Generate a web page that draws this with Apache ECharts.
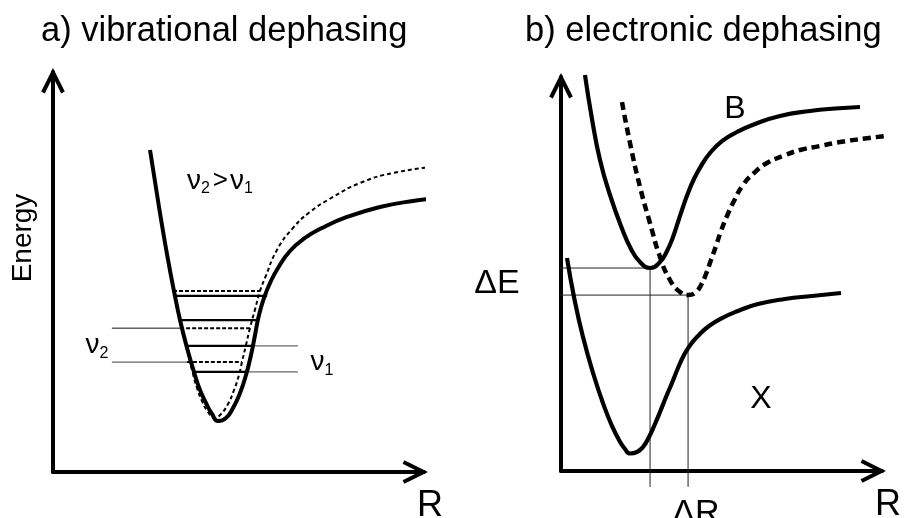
<!DOCTYPE html>
<html><head><meta charset="utf-8">
<script src="https://cdn.jsdelivr.net/npm/echarts@6/dist/echarts.min.js"></script>
<style>html,body{margin:0;padding:0;background:#fff}#c{width:918px;height:518px}</style>
</head><body><div id="c"></div>
<script>
// ---------- Panel a) vibrational dephasing (R, Energy in arbitrary units) ----------
const potA_R  = [25.87,28.27,30.53,32.53,33.87,35.60,37.60,39.20,40.80,42.40,44.00,46.13,48.00,49.87,51.47,52.80,53.87,54.93,56.27,57.87,60.00,63.20,67.20,71.73,78.40,87.20,96.00,105.33];
const potA_E  = [79.70,65.59,53.22,43.56,37.62,31.19,24.75,20.30,17.08,14.36,12.62,13.37,15.84,19.55,24.01,28.96,33.91,38.86,43.07,46.78,50.50,54.70,57.92,60.40,63.12,65.59,67.08,68.07];
const potA2_R = [32.27,33.73,35.47,37.20,38.40,39.73,41.33,43.20,44.80,46.67,48.27,49.60,50.40,51.47,52.53,53.87,55.20,56.53,59.73,64.00,68.53,74.67,81.87,90.67,103.20];
const potA2_E = [44.80,37.62,31.19,24.75,20.79,17.57,14.85,13.37,14.36,16.83,20.30,24.01,27.23,31.44,35.64,40.22,44.80,48.02,54.95,60.40,64.36,68.07,71.53,74.01,75.74];
// vibrational levels of the solid potential (nu1)
const levA_E    = [43.6,37.6,31.2,24.8];
const levA_Rmin = [32.3,33.6,35.2,37.1];
const levA_Rmax = [57.1,54.7,53.3,51.5];
// vibrational levels of the dashed potential (nu2)
const levA2_E    = [44.8,35.6,27.2];
const levA2_Rmin = [32.0,33.9,35.7];
const levA2_Rmax = [55.2,52.5,50.4];
// spacing markers
const nu2Mark_E = [35.6,27.2];
const nu2Mark_Rstart = 15.7;
const nu1Mark_E = [31.2,24.8];
const nu1Mark_Rend = 65.3;

// ---------- Panel b) electronic dephasing ----------
const potB_R  = [7.38,9.54,12.00,15.08,18.46,21.54,24.31,27.38,30.46,32.62,34.46,36.00,37.54,39.08,40.92,43.08,45.85,49.54,54.15,59.69,67.38,76.62,84.31,92.00];
const potB_E  = [99.50,88.44,78.14,69.35,61.56,55.78,52.51,51.01,52.51,55.28,58.79,62.56,66.33,69.85,73.37,76.63,79.90,82.91,85.18,87.19,89.20,90.45,91.08,91.46];
const potB2_R = [18.77,21.23,24.31,27.38,30.46,33.54,36.62,39.08,41.23,43.08,44.62,46.15,47.69,49.23,51.08,53.23,56.00,59.38,63.38,68.31,73.54,79.69,85.85,93.54,102.15];
const potB2_E = [92.71,82.41,71.36,62.31,53.77,47.99,44.97,44.22,44.72,46.73,49.50,53.02,56.53,60.30,64.07,67.84,71.86,74.87,77.39,79.15,80.65,81.66,82.66,83.54,84.42];
const potX_R  = [1.85,4.00,6.77,10.15,13.23,15.69,17.85,19.69,21.23,23.38,25.23,27.08,28.92,30.46,32.31,34.15,36.00,37.85,40.00,42.46,45.54,49.54,54.46,60.62,68.92,77.23,86.15];
const potX_E  = [53.52,43.72,33.67,23.87,16.33,11.31,7.79,5.53,4.40,4.77,6.03,8.54,11.81,14.82,18.59,22.11,25.88,29.15,31.91,34.17,36.43,38.44,40.20,41.96,43.22,43.97,44.72];
// minima marks (Delta E, Delta R)
const minB_R = [27.4,39.1];
const minB_E = [51.0,44.2];
const dE_Rstart = [-6.2,-7.1];
const dR_Ebottom = -4.0;

// annotations (text, R, E)
const textA = ['{n|ν}{s|2}{g|>}{n|ν}{s|1}', '{n|ν}{s|2}', '{n|ν}{s|1}'];
const textA_R = [44.5, 11.7, 71.7];
const textA_E = [72.0, 31.4, 27.2];
const textB = ['B', 'X', 'ΔE', 'ΔR'];
const textB_R = [53.5, 61.5, -19.7, 41.5];
const textB_E = [91.0, 18.1, 47.0, -10.8];
const textB_size = [32, 32, 34, 34];

const FONT = "'Liberation Sans', Arial, Helvetica, sans-serif";
const ARROW = 'path://M0.21 21.11L12 -2.47L23.79 21.11L20.21 22.89L12 6.47L3.79 22.89Z';
const ARROW_SIZE = [23.58, 25.36];

function zip(R, E) { return R.map((r, i) => [r, E[i]]); }
function curve(gi, R, E, style, z) {
  return {type:'line', xAxisIndex:gi, yAxisIndex:gi, data:zip(R,E), smooth:0.5,
    showSymbol:false, symbol:'none', clip:false, silent:true, z:z||3, lineStyle:style};
}
function seg(gi, p1, p2, style, z) {
  return {type:'line', xAxisIndex:gi, yAxisIndex:gi, data:[p1,p2], smooth:false,
    showSymbol:false, symbol:'none', clip:false, silent:true, z:z||2, lineStyle:style};
}
function axisX(gi, max) {
  return {gridIndex:gi, type:'value', min:0, max:max,
    axisLine:{show:true, onZero:false, symbol:['none', ARROW], symbolSize:ARROW_SIZE, symbolOffset:[0,-8.7],
      lineStyle:{color:'#000', width:4}},
    axisTick:{show:false}, axisLabel:{show:false}, splitLine:{show:false},
    name:'R', nameLocation:'end', nameGap:6,
    nameTextStyle:{fontSize:36, fontFamily:FONT, color:'#000', align:'center', verticalAlign:'top', padding:[16,0,0,0]}};
}
function axisY(gi, max, name) {
  const a = {gridIndex:gi, type:'value', min:0, max:max,
    axisLine:{show:true, onZero:false, symbol:['none', ARROW], symbolSize:ARROW_SIZE, symbolOffset:[0,-8.7],
      lineStyle:{color:'#000', width:4}},
    axisTick:{show:false}, axisLabel:{show:false}, splitLine:{show:false}};
  if (name) {
    a.name = name; a.nameLocation = 'middle'; a.nameRotate = 90; a.nameGap = 16;
    a.nameTextStyle = {fontSize:28, fontFamily:FONT, color:'#000', padding:[0,0,0,68]};
  }
  return a;
}

const solidA = {color:'#000', width:4};
const dashA = {color:'#000', width:2, type:[4,3]};
const levSolid = {color:'#000', width:2.3};
const levDash = {color:'#000', width:2, type:[4,2]};
const thinDark = {color:'#111', width:1};
const thinGray = {color:'#666', width:1.2};
const solidB = {color:'#000', width:4.2};
const dashB = {color:'#000', width:4.5, type:[8,5]};
const thinB = {color:'#222', width:1};

const series = [];
// panel a
levA_E.forEach((e,i) => series.push(seg(0, [levA_Rmin[i], e], [levA_Rmax[i], e], levSolid)));
levA2_E.forEach((e,i) => series.push(seg(0, [levA2_Rmin[i], e], [levA2_Rmax[i], e], levDash)));
nu2Mark_E.forEach((e,i) => series.push(seg(0, [nu2Mark_Rstart, e], [levA2_Rmin[i+1], e], i === 0 ? thinDark : thinGray, 1)));
nu1Mark_E.forEach((e,i) => series.push(seg(0, [levA_Rmax[i+2], e], [nu1Mark_Rend, e], thinGray, 1)));
series.push(curve(0, potA2_R, potA2_E, dashA, 3));
series.push(curve(0, potA_R, potA_E, solidA, 4));
// panel b
minB_R.forEach((r,i) => {
  series.push(seg(1, [dE_Rstart[i], minB_E[i]], [r, minB_E[i]], thinB, 1));
  series.push(seg(1, [r, minB_E[i]], [r, dR_Ebottom], thinB, 1));
});
series.push(curve(1, potB_R, potB_E, solidB, 4));
series.push(curve(1, potB2_R, potB2_E, dashB, 3));
series.push(curve(1, potX_R, potX_E, solidB, 4));
// annotations
const labelBase = {show:true, position:'inside', formatter:'{b}', color:'#000', fontFamily:FONT,
  textBorderWidth:0, textBorderColor:'transparent', opacity:1};
series.push({type:'scatter', xAxisIndex:0, yAxisIndex:0, symbolSize:1, clip:false, silent:true, z:5,
  itemStyle:{color:'transparent'},
  data: textA.map((t,i) => ({name:t, value:[textA_R[i], textA_E[i]]})),
  label:Object.assign({}, labelBase, {
    rich:{n:{fontSize:28, lineHeight:32, fontFamily:FONT, color:'#000'},
          g:{fontSize:26, lineHeight:32, fontFamily:FONT, color:'#000', padding:[0,2,0,3]},
          s:{fontSize:16, lineHeight:17, verticalAlign:'bottom', fontFamily:FONT, color:'#000'}}})});
series.push({type:'scatter', xAxisIndex:1, yAxisIndex:1, symbolSize:1, clip:false, silent:true, z:5,
  itemStyle:{color:'transparent'},
  data: textB.map((t,i) => ({name:t, value:[textB_R[i], textB_E[i]], label:{fontSize:textB_size[i]}})),
  label:labelBase});

const chart = echarts.init(document.getElementById('c'), null, {renderer:'canvas'});
chart.setOption({
  animation:false,
  backgroundColor:'#fff',
  title:[
    {text:'a) vibrational dephasing', left:41, top:14, padding:0,
      textStyle:{fontSize:34.5, fontWeight:'normal', color:'#000', fontFamily:FONT}},
    {text:'b) electronic dephasing', left:525, top:14, padding:0,
      textStyle:{fontSize:34.5, fontWeight:'normal', color:'#000', fontFamily:FONT}}
  ],
  grid:[
    {left:53, top:72, width:371, height:400, outerBoundsMode:'none', containLabel:false},
    {left:561, top:77, width:321, height:394, outerBoundsMode:'none', containLabel:false}
  ],
  xAxis:[axisX(0, 98.93), axisX(1, 98.77)],
  yAxis:[axisY(0, 99.0, 'Energy'), axisY(1, 99.0)],
  series: series
});
</script></body></html>
